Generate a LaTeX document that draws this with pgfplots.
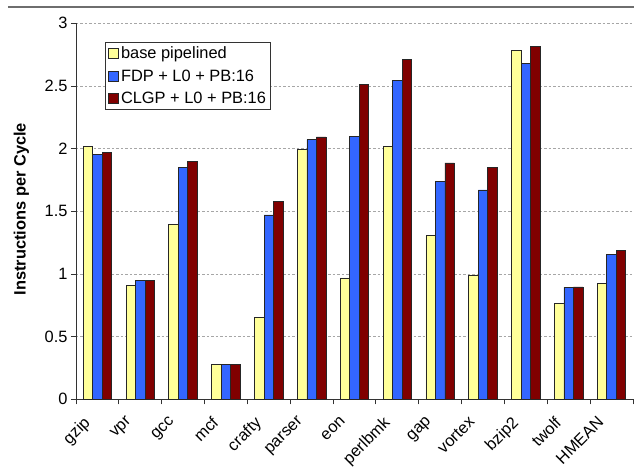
\documentclass[border=0pt]{standalone}
\usepackage{fontspec}
\setmainfont{Liberation Sans}
\usepackage{pgfplots}
\pgfplotsset{compat=1.18}

\definecolor{cbase}{HTML}{FFFF99}
\definecolor{cfdp}{HTML}{3366FF}
\definecolor{cclgp}{HTML}{800000}
\definecolor{rulegray}{HTML}{6E6E6E}

\begin{document}
\begin{tikzpicture}[font=\fontsize{16.4}{19}\selectfont]
\path[use as bounding box] (-76pt,-68.7pt) rectangle (558pt,399.3pt);
\draw[rulegray, line width=2pt] (-68pt,392.6pt) -- (558pt,392.6pt);
\begin{axis}[
  scale only axis, width=557pt, height=376pt,
  at={(0,0)}, anchor=south west,
  xmin=-0.5, xmax=12.5, ymin=0, ymax=3,
  ybar=0pt, bar width=9.5pt,
  axis lines*=left,
  axis line style={black!80, line width=0.9pt},
  /pgf/number format/assume math mode=true,
  ytick={0,0.5,...,3},
  ymajorgrids,
  grid style={gray!70, line width=0.6pt, dash pattern=on 2.5pt off 2pt},
  xtick={0,...,12},
  xticklabels={gzip,vpr,gcc,mcf,crafty,parser,eon,perlbmk,gap,vortex,bzip2,twolf,HMEAN},
  major x tick style={draw=none},
  minor xtick={-0.5,0.5,...,12.5},
  tick style={black!80, line width=0.9pt},
  tick align=outside, major tick length=5pt, minor tick length=5pt,
  xticklabel style={xshift=-15pt, yshift=-9.5pt, rotate=45, anchor=north east, inner sep=1pt},
  ylabel={\bfseries Instructions per Cycle},
  ylabel style={at={(axis description cs:-0.098,0.506)}, anchor=center},
  legend style={at={(0.052,0.949)}, anchor=north west, draw=black!80,
    line width=0.9pt, fill=white, row sep=6pt,
    nodes={inner sep=1.8pt}},
  legend cell align=left,
  legend image code/.code={\draw[#1, line width=0.8pt] (0pt,-5pt) rectangle (10pt,5pt);},
  every axis plot/.append style={draw=black!85, line width=0.8pt},
]
\addplot[fill=cbase] coordinates {
  (0,2.016) (1,0.910) (2,1.397) (3,0.276) (4,0.651) (5,1.995) (6,0.968)
  (7,2.016) (8,1.306) (9,0.992) (10,2.782) (11,0.766) (12,0.926)};
\addplot[fill=cfdp] coordinates {
  (0,1.950) (1,0.947) (2,1.848) (3,0.276) (4,1.471) (5,2.072) (6,2.099)
  (7,2.546) (8,1.740) (9,1.670) (10,2.680) (11,0.894) (12,1.154)};
\addplot[fill=cclgp] coordinates {
  (0,1.968) (1,0.950) (2,1.900) (3,0.276) (4,1.580) (5,2.093) (6,2.514)
  (7,2.708) (8,1.886) (9,1.851) (10,2.814) (11,0.896) (12,1.186)};
\legend{base pipelined, FDP + L0 + PB:16, CLGP + L0 + PB:16}
\end{axis}
\end{tikzpicture}
\end{document}
